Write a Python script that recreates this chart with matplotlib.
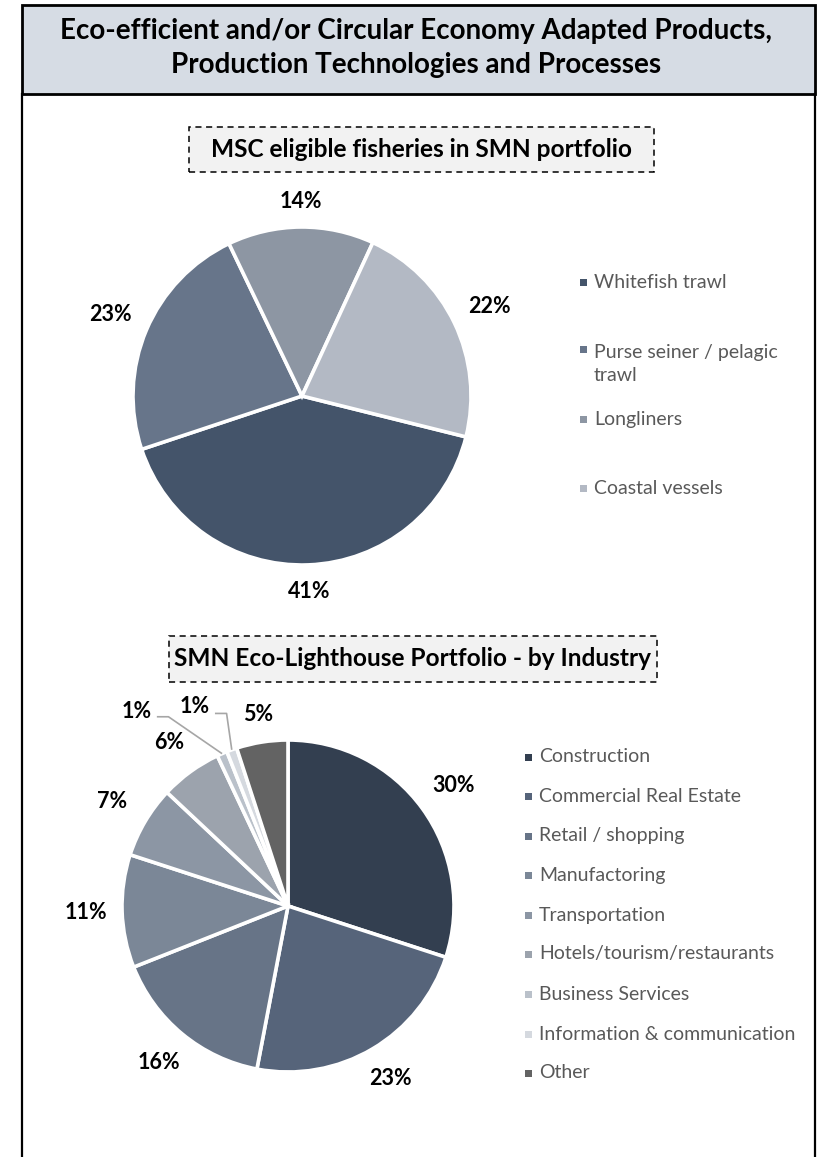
import numpy as np
import matplotlib
matplotlib.use("Agg")
import matplotlib.pyplot as plt
from matplotlib.patches import Rectangle
from matplotlib.lines import Line2D

plt.rcParams["font.family"] = ["Lato", "DejaVu Sans"]

# --------------------------------------------------
# Data
# --------------------------------------------------

title_lines = [
    "Eco-efficient and/or Circular Economy Adapted Products,",
    "Production Technologies and Processes",
]

fish_title = "MSC eligible fisheries in SMN portfolio"
fish_labels = ["Whitefish trawl", "Purse seiner / pelagic\ntrawl", "Longliners", "Coastal vessels"]
fish_values = [41, 23, 14, 22]
fish_colors = ["#44546A", "#67758A", "#8D96A3", "#B3B9C4"]

ind_title = "SMN Eco-Lighthouse Portfolio - by Industry"
ind_labels = [
    "Construction",
    "Commercial Real Estate",
    "Retail / shopping",
    "Manufactoring",
    "Transportation",
    "Hotels/tourism/restaurants",
    "Business Services",
    "Information & communication",
    "Other",
]
ind_values = [30, 23, 16, 11, 7, 6, 1, 1, 5]
ind_colors = ["#333F50", "#56647A", "#677487", "#7B8797", "#8C96A4",
              "#9CA3AD", "#BAC1CA", "#D5D9DF", "#636363"]

# --------------------------------------------------
# Figure helpers (pixel coordinates, origin top-left)
# --------------------------------------------------

W, H = 823, 1157
fig = plt.figure(figsize=(W / 100, H / 100), dpi=100)

PCT_SIZE = 15.5
LEG_SIZE = 14
LINE_PX = 28


def fx(x):
    return x / W


def fy(y):
    return 1 - y / H


def pie_axes(cx, cy, r, pad=1.35):
    ax = fig.add_axes([fx(cx - pad * r), fy(cy + pad * r), 2 * pad * r / W, 2 * pad * r / H])
    return ax


def place_labels(ax, wedges, values, skip=(), g=0.08, hw=0.135, hh=0.07):
    for i, (w, v) in enumerate(zip(wedges, values)):
        if i in skip:
            continue
        ang = np.deg2rad((w.theta1 + w.theta2) / 2)
        dx, dy = np.cos(ang), np.sin(ang)
        d = w.r + g + hw * abs(dx) + hh * abs(dy)
        ax.text(d * dx, d * dy, f"{v}%", ha="center", va="center",
                fontsize=PCT_SIZE, fontweight="bold", color="black")


def legend(labels, colors, ys, x_mark, x_text):
    for lab, col, y in zip(labels, colors, ys):
        fig.add_artist(Rectangle((fx(x_mark), fy(y + 3.5)), 7 / W, 7 / H,
                                 transform=fig.transFigure, facecolor=col, edgecolor="none"))
        n = lab.count("\n")
        fig.text(fx(x_text), fy(y + n * LINE_PX / 2), lab, ha="left", va="center",
                 fontsize=LEG_SIZE, color="#595959", linespacing=1.45)


def title_box(x0, x1, y0, y1, text):
    fig.add_artist(Rectangle((fx(x0), fy(y1)), (x1 - x0) / W, (y1 - y0) / H,
                             transform=fig.transFigure, facecolor="#F2F2F2",
                             edgecolor="black", linestyle=(0, (4, 3)), linewidth=1.1))
    fig.text(fx((x0 + x1) / 2), fy((y0 + y1) / 2), text, ha="center", va="center",
             fontsize=17.6, fontweight="bold", color="black")


# --------------------------------------------------
# Frame and header
# --------------------------------------------------

fig.add_artist(Rectangle((fx(22), fy(94)), (815 - 22) / W, (94 - 5) / H,
                         transform=fig.transFigure, facecolor="#D6DCE4",
                         edgecolor="black", linewidth=2))
for xl in (22, 815):
    fig.add_artist(Line2D([fx(xl), fx(xl)], [fy(94), 0], transform=fig.transFigure,
                          color="black", linewidth=1.6))

fig.text(fx(416), fy(31), title_lines[0], ha="center", va="center",
         fontsize=20, fontweight="bold", color="black")
fig.text(fx(416), fy(65), title_lines[1], ha="center", va="center",
         fontsize=20, fontweight="bold", color="black")

# --------------------------------------------------
# Pie 1 - fisheries
# --------------------------------------------------

title_box(189, 654, 127, 172, fish_title)

ax1 = pie_axes(302, 396, 169)
w1, _ = ax1.pie(fish_values, colors=fish_colors, startangle=-14, counterclock=False,
                wedgeprops=dict(edgecolor="white", linewidth=2.6))
ax1.set_xlim(-1.35, 1.35)
ax1.set_ylim(-1.35, 1.35)
ax1.axis("off")
place_labels(ax1, w1, fish_values)

legend(fish_labels, fish_colors, [282, 350, 419, 488], 580, 594)

# --------------------------------------------------
# Pie 2 - industry
# --------------------------------------------------

title_box(169, 657, 636, 682, ind_title)

ax2 = pie_axes(288, 906, 166)
w2, _ = ax2.pie(ind_values, colors=ind_colors, startangle=90, counterclock=False,
                wedgeprops=dict(edgecolor="white", linewidth=2.6))
ax2.set_xlim(-1.35, 1.35)
ax2.set_ylim(-1.35, 1.35)
ax2.axis("off")
place_labels(ax2, w2, ind_values, skip=(6, 7))

# the two 1% slices get labels pulled out with leader lines
small = {6: ((-0.91, 1.17), (-0.72, 1.14)), 7: ((-0.56, 1.20), (-0.37, 1.16))}
for i, (txt_xy, kink) in small.items():
    w = w2[i]
    ang = np.deg2rad((w.theta1 + w.theta2) / 2)
    end = (np.cos(ang) * 1.0, np.sin(ang) * 1.0)
    ax2.plot([kink[0] - 0.07, kink[0], end[0]], [kink[1], kink[1], end[1]],
             color="#A6A6A6", linewidth=1.2, solid_capstyle="butt")
    ax2.text(txt_xy[0], txt_xy[1], f"{ind_values[i]}%", ha="center", va="center",
             fontsize=PCT_SIZE, fontweight="bold", color="black")

legend(ind_labels, ind_colors,
       [757, 796, 836, 875, 915, 954, 994, 1034, 1073], 525, 539)

fig.savefig("out.png", dpi=100)
